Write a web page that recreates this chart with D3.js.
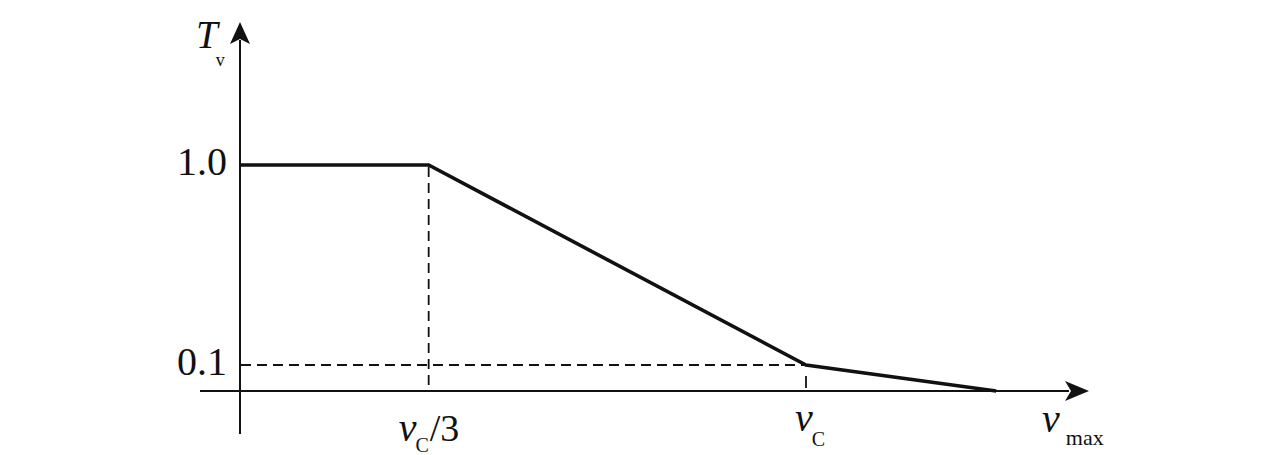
<!DOCTYPE html>
<html>
<head>
<meta charset="utf-8">
<script src="https://cdn.jsdelivr.net/npm/d3@7"></script>
<style>
  html, body { margin: 0; padding: 0; background: #fff; }
  svg { display: block; }
  text { font-family: "Liberation Serif", "Times New Roman", serif; fill: #111; }
</style>
</head>
<body>
<svg id="chart" width="1276" height="455"></svg>
<script>
// ---- data (speed in units of vC, Tv dimensionless) ----
const speedPoints = [0, 1 / 3, 1.0, 1.336];     // 0, vC/3, vC, vmax
const tvValues    = [1.0, 1.0, 0.1, 0.0];
const yTickValues = [1.0, 0.1];
const yTickLabels = ["1.0", "0.1"];
const xTickValues = [1 / 3, 1.0, 1.336];
const xTickMain   = ["v", "v", "v"];
const xTickSub    = ["C", "C", "max"];
const xTickSuffix = ["/3", "", ""];

const svg = d3.select("#chart");
const ink = "#111";

// schematic (not to scale) axes
const x = d3.scaleLinear().domain([0, 1]).range([240, 806]);
const y = d3.scaleLinear().domain([0, 0.1, 1.0]).range([391, 365, 165]);

const xMin = x.invert(200), xMax = x.invert(1089);
const yTop = 1.0 + (165 - 22) / (200 / 0.9);
const yBot = -(434 - 391) / 260;

// axes
svg.append("line")
  .attr("x1", x(xMin)).attr("x2", x(xMax) - 20)
  .attr("y1", y(0)).attr("y2", y(0))
  .attr("stroke", ink).attr("stroke-width", 2);
svg.append("path")
  .attr("d", `M${x(xMax)},${y(0)} L${x(xMax) - 24},${y(0) - 10} L${x(xMax) - 18},${y(0)} L${x(xMax) - 24},${y(0) + 10} Z`)
  .attr("fill", ink);

svg.append("line")
  .attr("x1", x(0)).attr("x2", x(0))
  .attr("y1", y(yBot)).attr("y2", y(yTop) + 18)
  .attr("stroke", ink).attr("stroke-width", 2);
svg.append("path")
  .attr("d", `M${x(0)},${y(yTop)} L${x(0) - 10},${y(yTop) + 22} L${x(0)},${y(yTop) + 17} L${x(0) + 10},${y(yTop) + 22} Z`)
  .attr("fill", ink);

// dashed guide lines
const dash = "10,6";
svg.append("line")
  .attr("x1", x(speedPoints[1])).attr("x2", x(speedPoints[1]))
  .attr("y1", y(tvValues[1]) + 2).attr("y2", y(0))
  .attr("stroke", ink).attr("stroke-width", 1.8).attr("stroke-dasharray", dash);
svg.append("line")
  .attr("x1", x(0) + 1).attr("x2", x(speedPoints[2]))
  .attr("y1", y(tvValues[2])).attr("y2", y(tvValues[2]))
  .attr("stroke", ink).attr("stroke-width", 1.8).attr("stroke-dasharray", dash);
svg.append("line")
  .attr("x1", x(speedPoints[2])).attr("x2", x(speedPoints[2]))
  .attr("y1", y(0) - 3).attr("y2", y(tvValues[2]))
  .attr("stroke", ink).attr("stroke-width", 1.8).attr("stroke-dasharray", "12,20");

// main curve
const line = d3.line().x((d, i) => x(speedPoints[i])).y(d => y(d));
svg.append("path")
  .datum(tvValues)
  .attr("d", line)
  .attr("fill", "none")
  .attr("stroke", ink)
  .attr("stroke-width", 3.6)
  .attr("stroke-linejoin", "miter");

// y tick labels
svg.selectAll("text.ytick")
  .data(yTickValues)
  .join("text")
  .attr("class", "ytick")
  .attr("x", x(0) - 13)
  .attr("y", d => y(d) + 10)
  .attr("text-anchor", "end")
  .attr("font-size", 40)
  .text((d, i) => yTickLabels[i]);

// y axis title T_v
const yt = svg.append("text").attr("x", x(0) - 44).attr("y", 48);
yt.append("tspan").attr("font-size", 39).attr("font-style", "italic").text("T");
yt.append("tspan").attr("font-size", 18).attr("dx", -2).attr("dy", 18).text("v");

// x tick labels
const xLabelPos = [
  { dx: -30, vy: 441, sy: 11 },
  { dx: -11, vy: 431, sy: 15 },
  { dx: -(x(1.336) - 1042), vy: 432, sy: 13 }
];
xTickValues.forEach((v, i) => {
  const p = xLabelPos[i];
  const t = svg.append("text").attr("x", x(v) + p.dx).attr("y", p.vy);
  t.append("tspan").attr("font-size", 40).attr("font-style", "italic").text(xTickMain[i]);
  t.append("tspan").attr("font-size", xTickSub[i] === "max" ? 22 : 20).attr("dx", xTickSub[i] === "max" ? 6 : -1).attr("dy", p.sy).text(xTickSub[i]);
  if (xTickSuffix[i]) {
    t.append("tspan").attr("font-size", 38).attr("dx", 1).attr("dy", -p.sy).text(xTickSuffix[i]);
  }
});
</script>
</body>
</html>
